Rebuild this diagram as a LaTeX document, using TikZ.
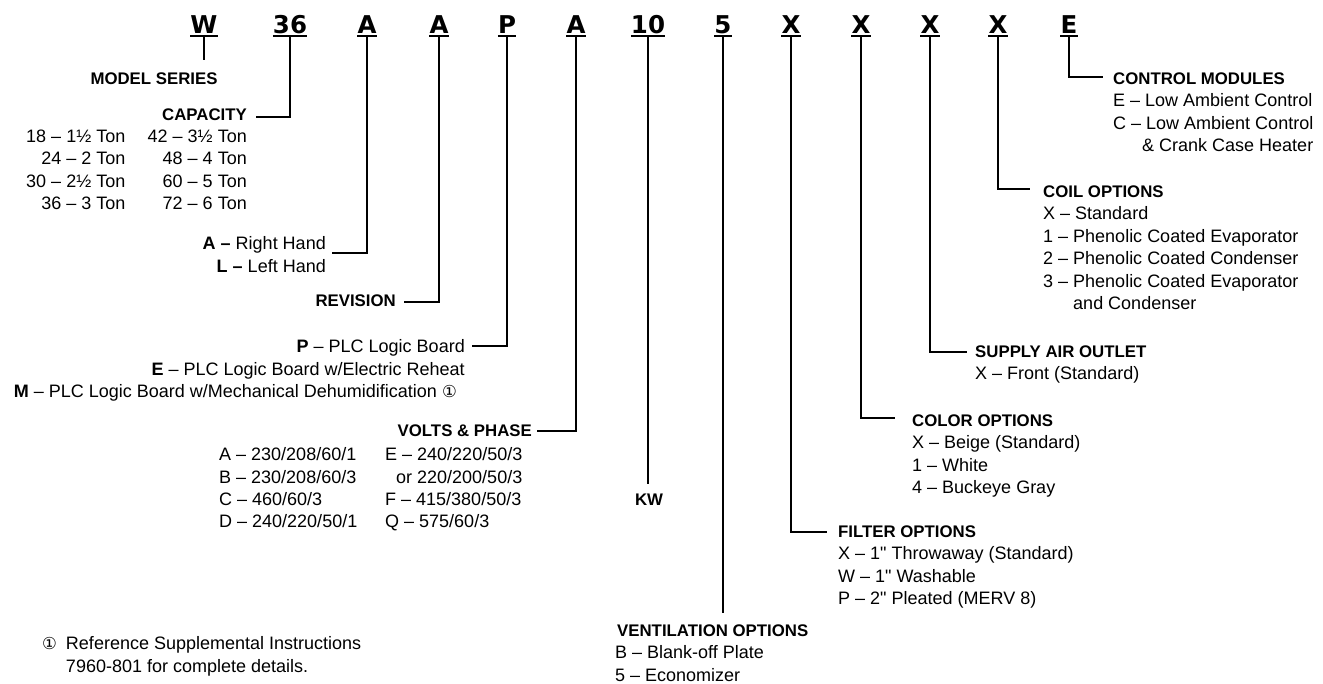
\documentclass[tikz,border=0pt]{standalone}
\usepackage{fontspec}
\setmainfont{Liberation Sans}
\newfontfamily\codefont{DejaVu Sans}
\newfontfamily\symfont{DejaVu Sans}
\usetikzlibrary{positioning}

\newcommand{\circone}{{\symfont\fontsize{16.5}{16.5}\selectfont ①}}

\begin{document}
\begin{tikzpicture}[
    x=1pt, y=-1pt,
    code/.style={font=\codefont\bfseries\fontsize{24.5}{26}\selectfont, inner sep=0pt, anchor=base},
    hd/.style={font=\bfseries\fontsize{16.8}{20}\selectfont, inner sep=0pt},
    txt/.style={font=\fontsize{18}{22.4}\selectfont, inner sep=0pt, align=left},
    lead/.style={line width=2.4pt, draw=black}
  ]
    \useasboundingbox (0,0) rectangle (1323,683);
    % model number, one underlined group per field
    \foreach \n/\lbl/\x in {kSeries/W/204, kCap/36/290, kHand/A/367, kRev/A/439, kCtl/P/507, kVolt/A/576, kKw/10/648, kVent/5/723, kFilt/X/791, kCol/X/861, kAir/X/930, kCoil/X/998, kMod/E/1069}{
      \node[code] (\n) at (\x,33) {\lbl};
      \draw[line width=2pt] ([yshift=-2.5pt]\n.base west) -- ([yshift=-2.5pt]\n.base east);
    }
    % left side
    \node[hd] (series) at (154,79) {MODEL SERIES};
    \node[hd, anchor=east] (capacity) at (247,115) {CAPACITY};
    \node[txt, align=right, below=8.5pt of capacity.south east, anchor=north east] (tonsR) {42 – 3½ Ton\\48 – 4 Ton\\60 – 5 Ton\\72 – 6 Ton};
    \node[txt, align=right, anchor=north east] (tonsL) at ([xshift=-22pt]tonsR.north west) {18 – 1½ Ton\\24 – 2 Ton\\30 – 2½ Ton\\36 – 3 Ton};
    \node[txt, align=right, anchor=north east] (hands) at (326,236.5) {\textbf{A –} Right Hand\\\textbf{L –} Left Hand};
    \node[hd, anchor=east] (revision) at (396,301) {REVISION};
    \node[txt, align=right, anchor=north east] (boards) at (465,339.5) {\textbf{P} – PLC Logic Board\\\textbf{E} – PLC Logic Board w/Electric Reheat\\\textbf{M} – PLC Logic Board w/Mechanical Dehumidification \circone\hspace*{8pt}};
    \node[hd, anchor=east] (volts) at (532,431) {VOLTS \& PHASE};
    \node[txt, anchor=north west] (voltsL) at (219,447.5) {A – 230/208/60/1\\B – 230/208/60/3\\C – 460/60/3\\D – 240/220/50/1};
    \node[txt, anchor=north west] (voltsR) at (385,447.5) {E – 240/220/50/3\\\hspace*{11pt}or 220/200/50/3\\F – 415/380/50/3\\Q – 575/60/3};
    \node[hd] (kwlbl) at (649,500) {KW};
    \node[txt, anchor=north west] (note) at (42,636.5) {\circone\hspace{9pt}Reference Supplemental Instructions\\\phantom{\circone}\hspace{9pt}7960-801 for complete details.};
    % bottom middle
    \node[hd, anchor=west] (ventilation) at (617,631) {VENTILATION OPTIONS};
    \node[txt, below=8.5pt of ventilation.south west, anchor=north west, xshift=-2pt] (ventlist) {B – Blank-off Plate\\5 – Economizer};
    % right side
    \node[hd, anchor=west] (filter) at (838,532) {FILTER OPTIONS};
    \node[txt, below=8.5pt of filter.south west, anchor=north west] (filtlist) {X – 1\textquotedbl{} Throwaway (Standard)\\W – 1\textquotedbl{} Washable\\P – 2\textquotedbl{} Pleated (MERV 8)};
    \node[hd, anchor=west] (color) at (912,421) {COLOR OPTIONS};
    \node[txt, below=8.5pt of color.south west, anchor=north west] (collist) {X – Beige (Standard)\\1 – White\\4 – Buckeye Gray};
    \node[hd, anchor=west] (supply) at (975,352) {SUPPLY AIR OUTLET};
    \node[txt, below=8.5pt of supply.south west, anchor=north west] (airlist) {X – Front (Standard)};
    \node[hd, anchor=west] (coilhd) at (1043,192) {COIL OPTIONS};
    \node[txt, below=8.5pt of coilhd.south west, anchor=north west] (coillist) {X – Standard\\1 – Phenolic Coated Evaporator\\2 – Phenolic Coated Condenser\\3 – Phenolic Coated Evaporator\\\phantom{3 – }and Condenser};
    \node[hd, anchor=west] (modules) at (1113,79) {CONTROL MODULES};
    \node[txt, below=8.5pt of modules.south west, anchor=north west] (modlist) {E – Low Ambient Control\\C – Low Ambient Control\\\hspace*{29pt}\& Crank Case Heater};
    % leader lines
    \draw[lead, shorten >=13pt] ([yshift=-2.5pt]kSeries.base) -- (kSeries.base |- series.north);
    \draw[lead] ([yshift=-2.5pt]kCap.base) |- ([xshift=9pt,yshift=-2pt]capacity.east);
    \draw[lead] ([yshift=-2.5pt]kHand.base) |- ([xshift=6pt,yshift=-16.5pt]hands.north east);
    \draw[lead] ([yshift=-2.5pt]kRev.base) |- ([xshift=8pt,yshift=-1pt]revision.east);
    \draw[lead] ([yshift=-2.5pt]kCtl.base) |- ([xshift=7pt,yshift=-6.5pt]boards.north east);
    \draw[lead] ([yshift=-2.5pt]kVolt.base) |- ([xshift=5pt]volts.east);
    \draw[lead, shorten >=10pt] ([yshift=-2.5pt]kKw.base) -- (kKw.base |- kwlbl.north);
    \draw[lead, shorten >=12pt] ([yshift=-2.5pt]kVent.base) -- (kVent.base |- ventilation.north);
    \draw[lead] ([yshift=-2.5pt]kFilt.base) |- ([xshift=-11pt]filter.west);
    \draw[lead] ([yshift=-2.5pt]kCol.base) |- ([xshift=-17pt,yshift=3pt]color.west);
    \draw[lead] ([yshift=-2.5pt]kAir.base) |- ([xshift=-8pt]supply.west);
    \draw[lead] ([yshift=-2.5pt]kCoil.base) |- ([xshift=-13pt,yshift=3pt]coilhd.west);
    \draw[lead] ([yshift=-2.5pt]kMod.base) |- ([xshift=-10pt,yshift=2pt]modules.west);
\end{tikzpicture}
\end{document}
